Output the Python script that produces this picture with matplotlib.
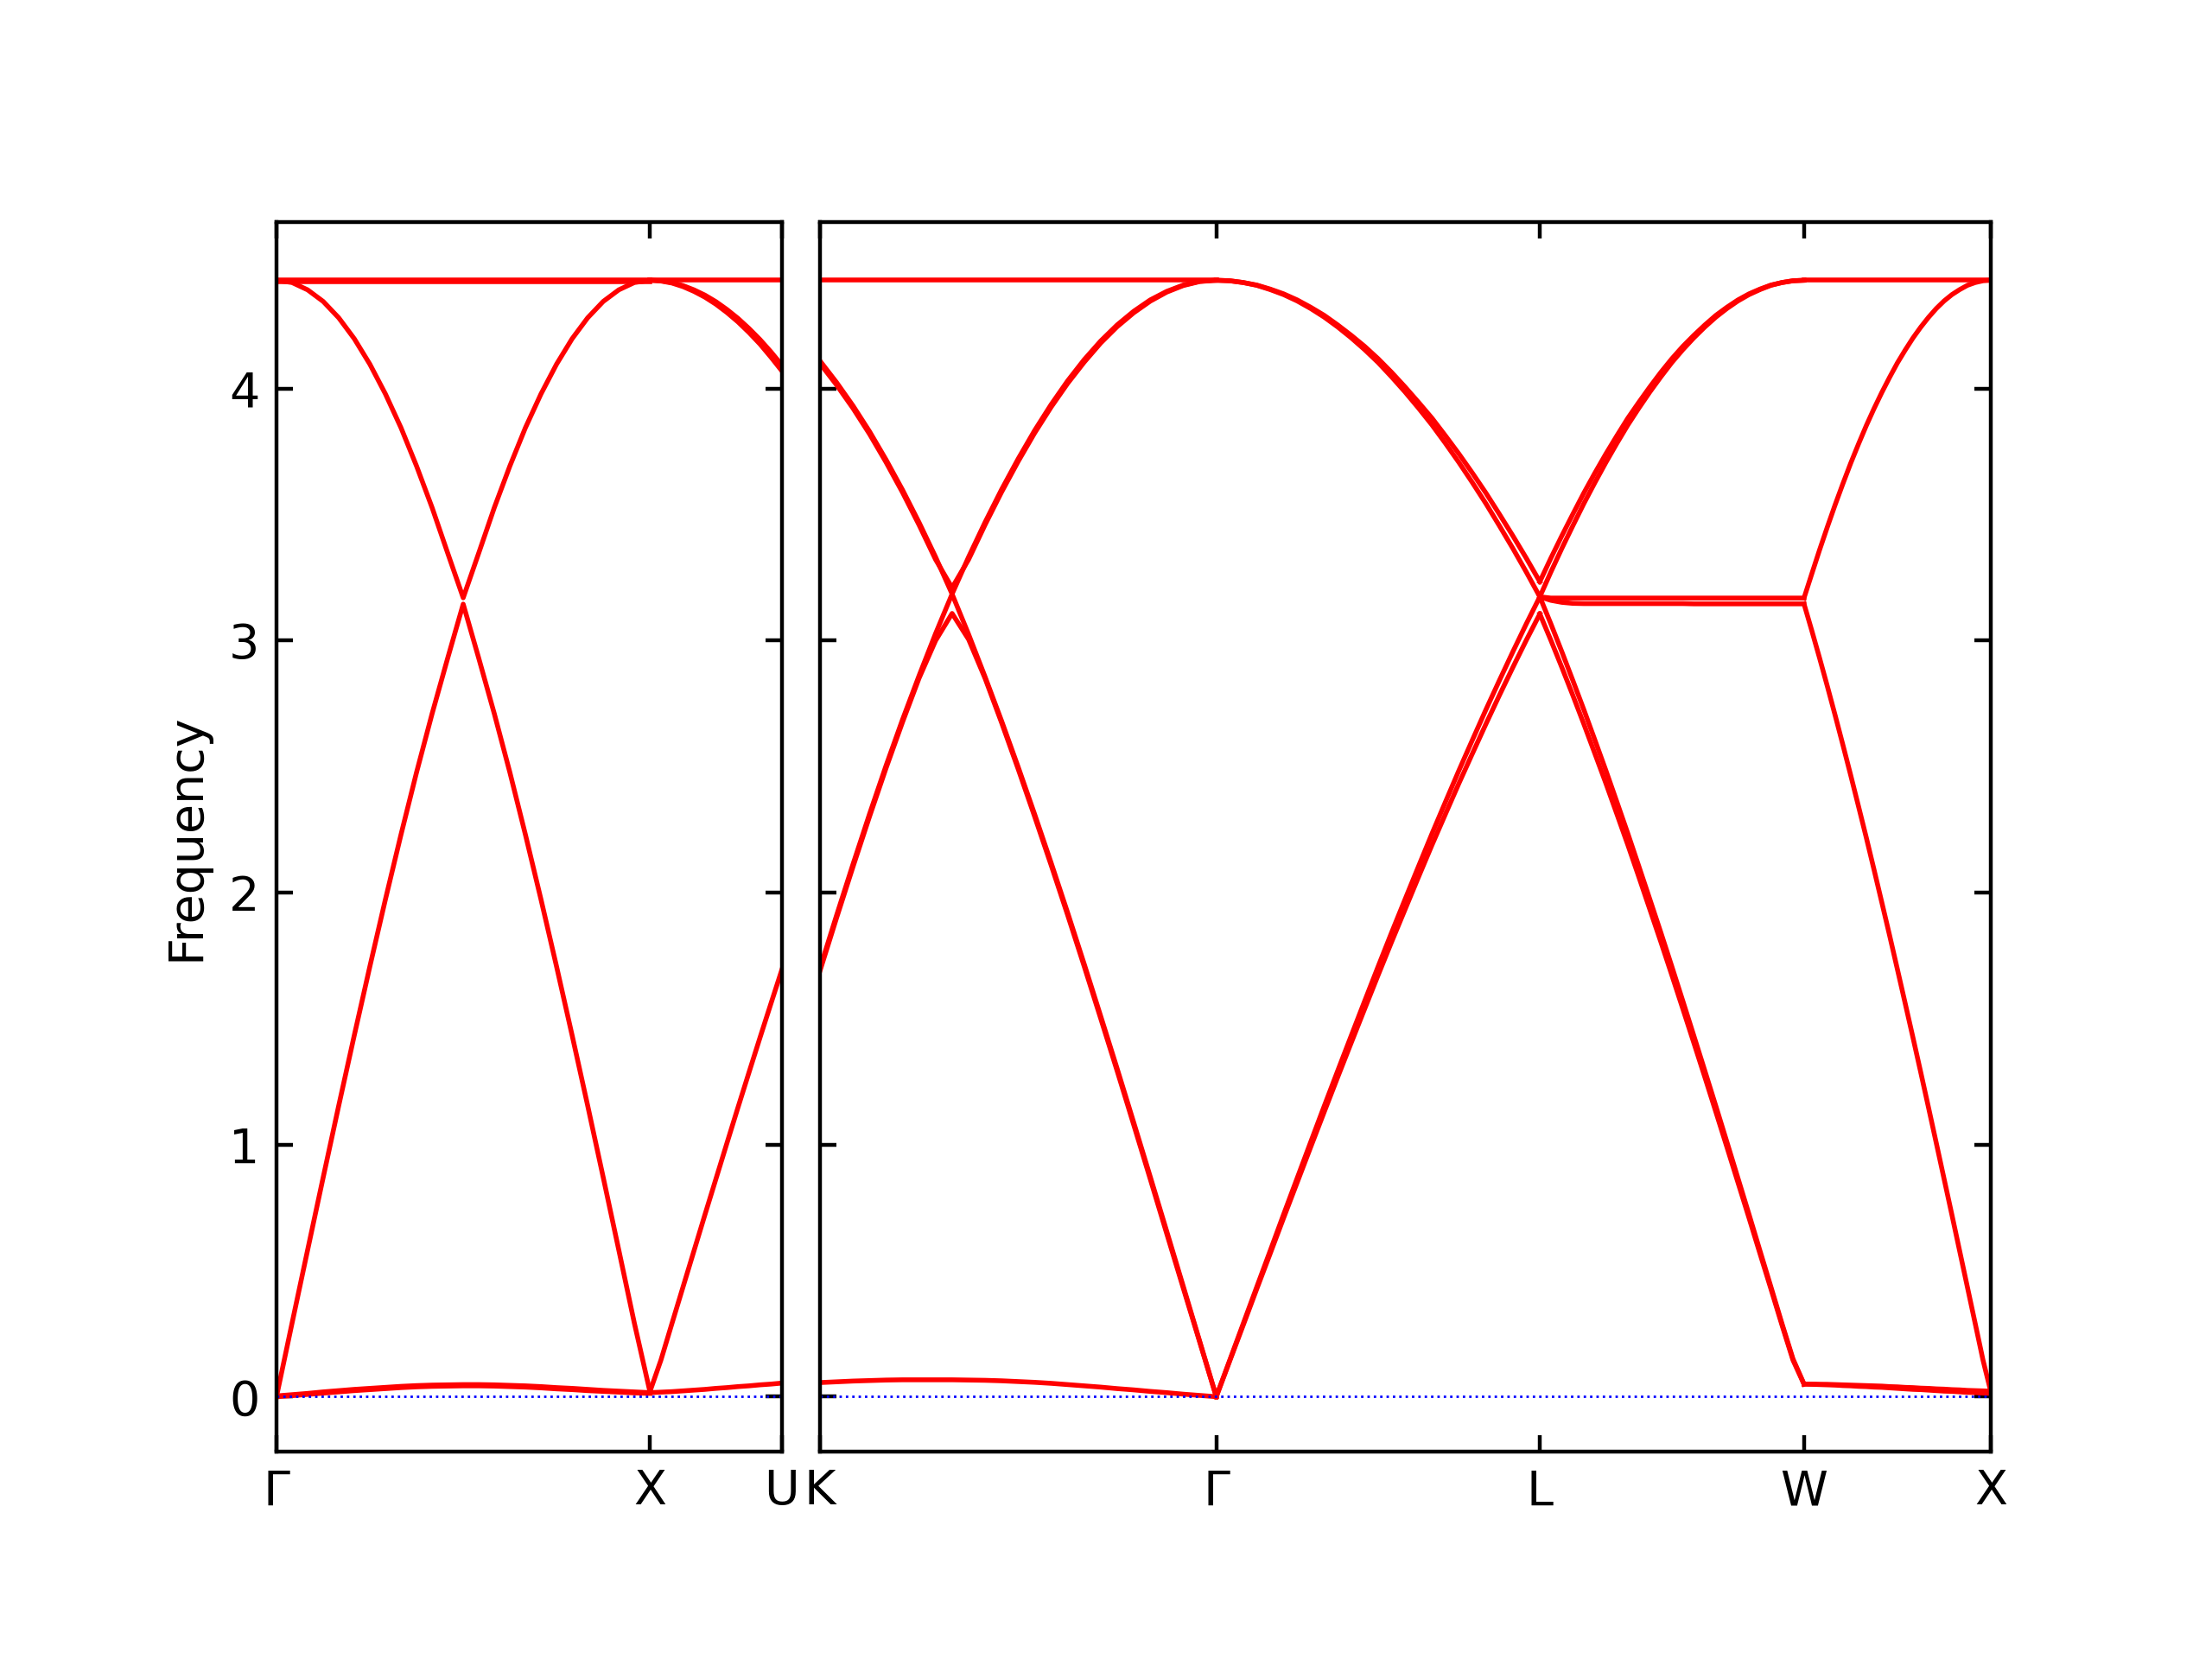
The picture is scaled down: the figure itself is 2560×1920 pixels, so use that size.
import matplotlib.pyplot as plt
import numpy as np

# phonon bands, one list per branch and path segment
left_labels = ["Γ", "X", "U"]
right_labels = ["K", "Γ", "L", "W", "X"]
left_lengths = [1.0, 0.3536]                     # Γ-X, X-U
right_lengths = [1.0607, 0.8660, 0.7071, 0.5]    # K-Γ, Γ-L, L-W, W-X

t24 = np.linspace(0, 1, 25)
t12 = np.linspace(0, 1, 13)

# Γ - X
gx_flat = [4.430] * 25
gx_flat2 = [4.426] * 25
gx_upper = [4.430, 4.421, 4.392, 4.346, 4.281, 4.198, 4.097, 3.979, 3.845, 3.693, 3.528, 3.348, 3.170,
            3.348, 3.528, 3.693, 3.845, 3.979, 4.097, 4.198, 4.281, 4.346, 4.392, 4.421, 4.430]
gx_lower = [0.000, 0.292, 0.582, 0.870, 1.155, 1.434, 1.707, 1.973, 2.230, 2.477, 2.710, 2.930, 3.145,
            2.930, 2.710, 2.477, 2.230, 1.973, 1.707, 1.434, 1.155, 0.870, 0.582, 0.292, 0.020]
gx_low = [0.003, 0.008, 0.013, 0.019, 0.024, 0.029, 0.033, 0.037, 0.041, 0.044, 0.046, 0.047, 0.048,
          0.048, 0.047, 0.045, 0.043, 0.040, 0.036, 0.033, 0.029, 0.025, 0.022, 0.019, 0.016]
gx_low2 = [0.000, 0.004, 0.009, 0.014, 0.019, 0.024, 0.028, 0.032, 0.036, 0.039, 0.041, 0.042, 0.043,
           0.043, 0.042, 0.040, 0.038, 0.035, 0.031, 0.028, 0.024, 0.021, 0.018, 0.015, 0.013]

# X - U
xu_flat = [4.430] * 13
xu_down = [4.430, 4.428, 4.421, 4.409, 4.392, 4.371, 4.345, 4.314, 4.279, 4.239, 4.195, 4.146, 4.093]
xu_down2 = [4.430, 4.427, 4.419, 4.405, 4.386, 4.363, 4.335, 4.302, 4.265, 4.223, 4.177, 4.125, 4.070]
xu_up = [0.020, 0.145, 0.290, 0.434, 0.578, 0.722, 0.864, 1.006, 1.147, 1.286, 1.424, 1.560, 1.695]
xu_low = [0.016, 0.018, 0.020, 0.023, 0.026, 0.029, 0.033, 0.036, 0.040, 0.043, 0.047, 0.050, 0.054]

# K - Γ
kg_flat = [4.430] * 25
kg_down = [4.110, 4.025, 3.932, 3.830, 3.718, 3.598, 3.469, 3.332, 3.185, 3.025, 2.856, 2.681, 2.499,
           2.311, 2.118, 1.920, 1.717, 1.510, 1.301, 1.088, 0.873, 0.656, 0.438, 0.219, 0.000]
kg_vee = [4.100, 4.015, 3.922, 3.820, 3.708, 3.588, 3.459, 3.322, 3.210, 3.322, 3.460, 3.590, 3.711,
          3.824, 3.927, 4.021, 4.105, 4.181, 4.246, 4.301, 4.347, 4.383, 4.409, 4.425, 4.430]
kg_up = [1.700, 1.909, 2.113, 2.312, 2.504, 2.687, 2.861, 3.028, 3.185, 3.332, 3.470, 3.600, 3.721,
         3.834, 3.937, 4.031, 4.115, 4.189, 4.253, 4.307, 4.352, 4.386, 4.411, 4.426, 4.430]
kg_cap = [1.690, 1.899, 2.103, 2.302, 2.494, 2.677, 2.851, 3.000, 3.108, 3.005, 2.850, 2.674, 2.491,
          2.302, 2.109, 1.911, 1.708, 1.501, 1.292, 1.079, 0.864, 0.647, 0.431, 0.216, 0.000]
kg_low = [0.056, 0.059, 0.062, 0.064, 0.066, 0.067, 0.067, 0.067, 0.067, 0.066, 0.065, 0.063, 0.060,
          0.057, 0.053, 0.048, 0.043, 0.038, 0.032, 0.027, 0.021, 0.016, 0.010, 0.005, 0.000]

# Γ - L
gl_down = [4.430, 4.428, 4.421, 4.410, 4.393, 4.373, 4.348, 4.318, 4.284, 4.245, 4.202, 4.155, 4.104,
           4.047, 3.987, 3.923, 3.856, 3.783, 3.707, 3.627, 3.544, 3.456, 3.366, 3.272, 3.174]
gl_down2 = [4.430, 4.428, 4.421, 4.411, 4.395, 4.376, 4.352, 4.323, 4.291, 4.253, 4.212, 4.168, 4.119,
            4.065, 4.007, 3.946, 3.883, 3.813, 3.741, 3.665, 3.586, 3.502, 3.416, 3.327, 3.234]
gl_up = [0.000, 0.145, 0.290, 0.435, 0.579, 0.724, 0.867, 1.010, 1.152, 1.292, 1.431, 1.569, 1.706,
         1.841, 1.973, 2.104, 2.234, 2.360, 2.485, 2.606, 2.726, 2.842, 2.956, 3.067, 3.174]
gl_up2 = [0.000, 0.142, 0.284, 0.427, 0.568, 0.710, 0.850, 0.990, 1.129, 1.267, 1.403, 1.538, 1.672,
          1.804, 1.933, 2.062, 2.189, 2.312, 2.434, 2.552, 2.669, 2.783, 2.894, 3.002, 3.106]

# L - W
lw_up = [3.174, 3.272, 3.366, 3.456, 3.544, 3.627, 3.707, 3.783, 3.856, 3.923, 3.987, 4.047, 4.104,
         4.155, 4.202, 4.245, 4.284, 4.318, 4.348, 4.373, 4.393, 4.410, 4.421, 4.428, 4.430]
lw_up2 = [3.234, 3.327, 3.416, 3.502, 3.586, 3.665, 3.741, 3.813, 3.883, 3.946, 4.007, 4.065, 4.119,
          4.168, 4.212, 4.253, 4.291, 4.323, 4.352, 4.376, 4.395, 4.411, 4.421, 4.428, 4.430]
lw_flat = [3.174] + [3.169] * 24
lw_flat2 = [3.174, 3.160, 3.152, 3.148] + [3.147] * 10 + [3.146] * 11
lw_down = [3.174, 3.067, 2.956, 2.842, 2.726, 2.606, 2.485, 2.360, 2.234, 2.104, 1.973, 1.841, 1.706,
           1.569, 1.431, 1.292, 1.152, 1.010, 0.867, 0.724, 0.579, 0.435, 0.290, 0.150, 0.050]
lw_down2 = [3.106, 3.002, 2.894, 2.783, 2.669, 2.552, 2.434, 2.312, 2.189, 2.062, 1.933, 1.804, 1.672,
            1.538, 1.403, 1.267, 1.129, 0.990, 0.850, 0.710, 0.568, 0.427, 0.284, 0.145, 0.050]

# W - X
wx_flat = [4.430] * 25
wx_up = [3.169, 3.265, 3.360, 3.451, 3.539, 3.623, 3.704, 3.780, 3.853, 3.921, 3.985, 4.045, 4.102,
         4.153, 4.201, 4.244, 4.283, 4.318, 4.348, 4.373, 4.393, 4.410, 4.421, 4.428, 4.430]
wx_down = [3.146, 3.040, 2.931, 2.819, 2.704, 2.586, 2.466, 2.343, 2.219, 2.091, 1.961, 1.830, 1.696,
           1.561, 1.425, 1.287, 1.147, 1.006, 0.864, 0.722, 0.578, 0.434, 0.290, 0.145, 0.020]
wx_low = [0.050, 0.050, 0.049, 0.049, 0.048, 0.047, 0.046, 0.045, 0.044, 0.043, 0.042, 0.040, 0.039,
          0.037, 0.036, 0.034, 0.033, 0.031, 0.030, 0.028, 0.027, 0.025, 0.024, 0.023, 0.022]
wx_low2 = [0.050, 0.049, 0.048, 0.047, 0.046, 0.044, 0.043, 0.041, 0.040, 0.038, 0.037, 0.035, 0.033,
           0.031, 0.029, 0.028, 0.026, 0.024, 0.022, 0.021, 0.019, 0.017, 0.016, 0.014, 0.013]

left_segments = [
    (t24, [gx_flat, gx_flat2, gx_upper, gx_lower, gx_low, gx_low2]),
    (t12, [xu_flat, xu_down, xu_down2, xu_up, xu_low]),
]
right_segments = [
    (t24, [kg_flat, kg_down, kg_vee, kg_up, kg_cap, kg_low]),
    (t24, [gl_down, gl_down2, gl_up, gl_up2]),
    (t24, [lw_up, lw_up2, lw_flat, lw_flat2, lw_down, lw_down2]),
    (t24, [wx_flat, wx_up, wx_down, wx_low, wx_low2]),
]


def draw_panel(ax, lengths, segments, labels):
    nodes = np.concatenate([[0], np.cumsum(lengths)])
    for (t, branches), x0, L in zip(segments, nodes[:-1], lengths):
        x = x0 + t * L
        for b in branches:
            ax.plot(x, b, color="r", lw=1.0)
    ax.axhline(0, color="b", ls=":", lw=0.5)
    ax.set_xlim(nodes[0], nodes[-1])
    ax.set_ylim(-0.218, 4.66)
    ax.set_xticks(nodes)
    ax.set_xticklabels(labels)
    ax.set_yticks([0, 1, 2, 3, 4])
    ax.tick_params(direction="in", top=True, right=True, labelsize=10)


fig = plt.figure(figsize=(6.4, 4.8), dpi=400)
ax1 = fig.add_axes([0.125, 0.125, 0.2285, 0.741])
ax2 = fig.add_axes([0.3707, 0.125, 0.5293, 0.741])

draw_panel(ax1, left_lengths, left_segments, left_labels)
draw_panel(ax2, right_lengths, right_segments, right_labels)
ax2.tick_params(labelleft=False)
ax1.set_ylabel("Frequency")

fig.savefig("out.png", dpi=400)
